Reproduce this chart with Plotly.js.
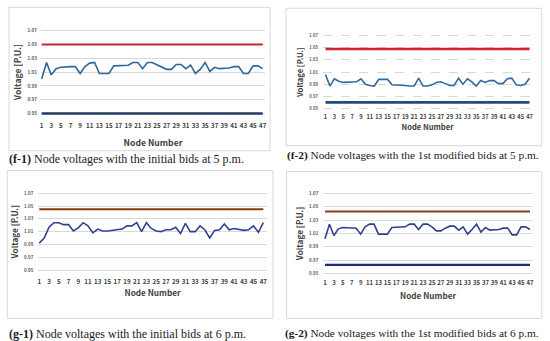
<!DOCTYPE html>
<html><head><meta charset="utf-8">
<script src="https://cdn.plot.ly/plotly-3.0.1.min.js"></script>
<style>html,body{margin:0;padding:0;background:#fff}#chart{width:550px;height:341px}</style>
</head><body><div id="chart"></div>
<script>
// ---------- data ----------
const nodes = [1,2,3,4,5,6,7,8,9,10,11,12,13,14,15,16,17,18,19,20,21,22,23,24,25,26,27,28,29,30,31,32,33,34,35,36,37,38,39,40,41,42,43,44,45,46,47];
const xTickVals = [1,3,5,7,9,11,13,15,17,19,21,23,25,27,29,31,33,35,37,39,41,43,45,47];
const xTickText = ['1','3','5','7','9','11','13','15','17','19','21','23','25','27','29','31','33','35','37','39','41','43','45','47'];
const yTickVals = [0.95,0.97,0.99,1.01,1.03,1.05,1.07];
const yTickText = ['0.95','0.97','0.99','1.01','1.03','1.05','1.07'];

const f1Voltage = [1.000,1.024,1.006,1.015,1.017,1.018,1.018,1.018,1.008,1.018,
                   1.023,1.024,1.008,1.008,1.008,1.019,1.019,1.019,1.020,1.024,
                   1.024,1.015,1.024,1.024,1.021,1.017,1.014,1.014,1.021,1.021,
                   1.015,1.020,1.008,1.014,1.024,1.011,1.017,1.015,1.015,1.016,
                   1.018,1.018,1.008,1.008,1.019,1.019,1.015];
const f1Upper = 1.05, f1Lower = 0.95;

const f2Voltage = [1.006,0.987,0.999,0.995,0.993,0.993,0.993,0.994,0.999,0.990,
                   0.988,0.987,0.998,0.998,0.998,0.989,0.989,0.989,0.988,0.987,
                   0.987,1.000,0.987,0.987,0.989,0.993,0.994,0.991,0.988,0.988,
                   1.000,0.990,0.999,0.994,0.987,0.996,0.993,0.996,0.996,0.991,
                   0.991,0.999,1.000,0.989,0.988,0.990,1.000];
const f2Upper = 1.048, f2Lower = 0.960;

const g1Voltage = [0.992,1.000,1.017,1.024,1.024,1.021,1.021,1.011,1.016,1.024,
                   1.019,1.008,1.014,1.011,1.011,1.012,1.014,1.014,1.019,1.019,
                   1.024,1.010,1.024,1.015,1.011,1.010,1.013,1.013,1.017,1.007,
                   1.023,1.010,1.010,1.019,1.013,1.000,1.012,1.013,1.022,1.013,
                   1.015,1.014,1.012,1.013,1.019,1.009,1.024];
const g1Upper = 1.045, g1Lower = null;

const g2Voltage = [1.002,1.024,1.007,1.017,1.019,1.019,1.019,1.018,1.009,1.020,
                   1.024,1.024,1.009,1.009,1.009,1.019,1.019,1.019,1.020,1.024,
                   1.024,1.016,1.024,1.024,1.020,1.014,1.014,1.018,1.021,1.021,
                   1.015,1.020,1.009,1.016,1.024,1.012,1.019,1.015,1.015,1.016,
                   1.018,1.018,1.008,1.008,1.020,1.020,1.016];
const g2Upper = 1.043, g2Lower = 0.963;

const captionTags = ['(f-1)','(f-2)','(g-1)','(g-2)'];
const captionTexts = [' Node voltages with the initial bids at 5 p.m.',
                      ' Node voltages with the 1st modified bids at 5 p.m.',
                      ' Node voltages with the initial bids at 6 p.m.',
                      ' Node voltages with the 1st modified bids at 6 p.m.'];
const xTitle = 'Node Number';
const yTitle = 'Voltage [P.U.]';

// ---------- layout geometry (pixels) ----------
const W = 550, H = 341;
const fx = p => p / W;
const fy = p => 1 - p / H;

const panels = [
  {v: f1Voltage, up: f1Upper, lo: f1Lower, xa: [41.7, 262.7, 41, 265], ya: [30.7, 113.5],
   box: [9, 7.3, 270, 150.7], cap: [7, 158.5], capSize: 12, dash: 'solid', xfs: 6.2, yfs: 4.6, tfs: 8.6,
   colLine: '#2E6797', colUp: '#C0282E', colLo: '#1F3864', wLimit: 2, xStand: 5, yStand: 3, xtStand: 11, ytStand: 4},
  {v: f2Voltage, up: f2Upper, lo: f2Lower, xa: [325.5, 529.5, 323, 532], ya: [35.7, 108.5],
   box: [286, 8.3, 541.7, 145.7], cap: [285, 155.5], capSize: 11.3, dash: 'dash', xfs: 5.7, yfs: 4.2, tfs: 7.6,
   colLine: '#2F6A9E', colUp: '#D0222B', colLo: '#1F4E79', wLimit: 2.4, xStand: 2, yStand: 4, xtStand: 4, ytStand: 4},
  {v: g1Voltage, up: g1Upper, lo: g1Lower, xa: [39.3, 263.3, 38.3, 266.7], ya: [193.3, 270],
   box: [7.3, 170.5, 273, 318.5], cap: [7, 333.5], capSize: 12, dash: 'solid', xfs: 6.2, yfs: 4.4, tfs: 8.2,
   colLine: '#33408F', colUp: '#8A3B12', colLo: '#1F2A78', wLimit: 2, xStand: 5, yStand: 4, xtStand: 5, ytStand: 4},
  {v: g2Voltage, up: g2Upper, lo: g2Lower, xa: [325, 530, 323.3, 532.7], ya: [193.5, 273.5],
   box: [286.5, 171.5, 541.7, 318.5], cap: [283, 333.5], capSize: 11.3, dash: 'solid', xfs: 6, yfs: 4.4, tfs: 8.2,
   colLine: '#33408F', colUp: '#8A3B12', colLo: '#1F2A78', wLimit: 2, xStand: 2, yStand: 4, xtStand: 7, ytStand: 4}
];

const nFirst = nodes[0], nLast = nodes[nodes.length - 1], nSpan = nLast - nFirst;
const yMin = yTickVals[0], yMax = yTickVals[yTickVals.length - 1];
const chartFont = '"Noto Sans CJK KR", "Noto Sans", sans-serif';

const traces = [], shapes = [], annotations = [];
const layout = {
  width: W, height: H, margin: {l: 0, r: 0, t: 0, b: 0},
  paper_bgcolor: '#ffffff', plot_bgcolor: 'rgba(0,0,0,0)', showlegend: false,
  font: {family: chartFont, color: '#595959'}
};

panels.forEach((p, i) => {
  const k = i === 0 ? '' : String(i + 1);
  const xr = 'x' + k, yr = 'y' + k;
  const [a, b, gl, gr] = p.xa;
  const unit = (b - a) / nSpan;
  layout['xaxis' + k] = {
    domain: [fx(gl), fx(gr)], range: [nFirst - (a - gl) / unit, nLast + (gr - b) / unit],
    anchor: yr, showgrid: false, zeroline: false, showline: false, ticks: '',
    tickmode: 'array', tickvals: xTickVals, ticktext: xTickText, tickangle: 0,
    ticklabelstandoff: p.xStand,
    tickfont: {family: chartFont, size: p.xfs, color: '#404040', weight: 'bold'},
    title: {text: xTitle, standoff: p.xtStand, font: {family: chartFont, size: p.tfs, color: '#404040', weight: 'bold'}},
    fixedrange: true
  };
  const [top, bot] = p.ya;
  const pad = 2;
  const yu = (bot - top) / (yMax - yMin);
  layout['yaxis' + k] = {
    domain: [fy(bot + pad), fy(top - pad)], range: [yMin - pad / yu, yMax + pad / yu],
    anchor: xr, showgrid: true, gridcolor: '#d9d9d9', gridwidth: 1, griddash: p.dash,
    zeroline: false, showline: false, ticks: '',
    tickmode: 'array', tickvals: yTickVals, ticktext: yTickText,
    ticklabelstandoff: p.yStand,
    tickfont: {family: chartFont, size: p.yfs, color: '#595959', weight: 'bold'},
    title: {text: yTitle, standoff: p.ytStand, font: {family: chartFont, size: p.tfs, color: '#404040', weight: 'bold'}},
    fixedrange: true
  };
  traces.push({x: [nFirst, nLast], y: [p.up, p.up], xaxis: xr, yaxis: yr, mode: 'lines',
               line: {color: p.colUp, width: p.wLimit}, hoverinfo: 'skip'});
  if (p.lo !== null) {
    traces.push({x: [nFirst, nLast], y: [p.lo, p.lo], xaxis: xr, yaxis: yr, mode: 'lines',
                 line: {color: p.colLo, width: p.wLimit + 0.4}, hoverinfo: 'skip'});
  }
  traces.push({x: nodes, y: p.v, xaxis: xr, yaxis: yr, mode: 'lines',
               line: {color: p.colLine, width: 1.6}, name: 'Voltage'});
  const [x0, y0, x1, y1] = p.box;
  shapes.push({type: 'rect', xref: 'paper', yref: 'paper', x0: fx(x0), x1: fx(x1), y0: fy(y1), y1: fy(y0),
               line: {color: '#d9d9d9', width: 1}, fillcolor: 'rgba(0,0,0,0)', layer: 'below'});
  annotations.push({xref: 'paper', yref: 'paper', x: fx(p.cap[0]), y: fy(p.cap[1]), xanchor: 'left', yanchor: 'middle',
                    showarrow: false, text: '<b>' + captionTags[i] + '</b>' + captionTexts[i],
                    font: {family: '"Liberation Serif", serif', size: p.capSize, color: '#1a1a1a'}});
});
layout.shapes = shapes;
layout.annotations = annotations;

Plotly.newPlot('chart', traces, layout, {staticPlot: true, displayModeBar: false});
</script>
</body></html>
